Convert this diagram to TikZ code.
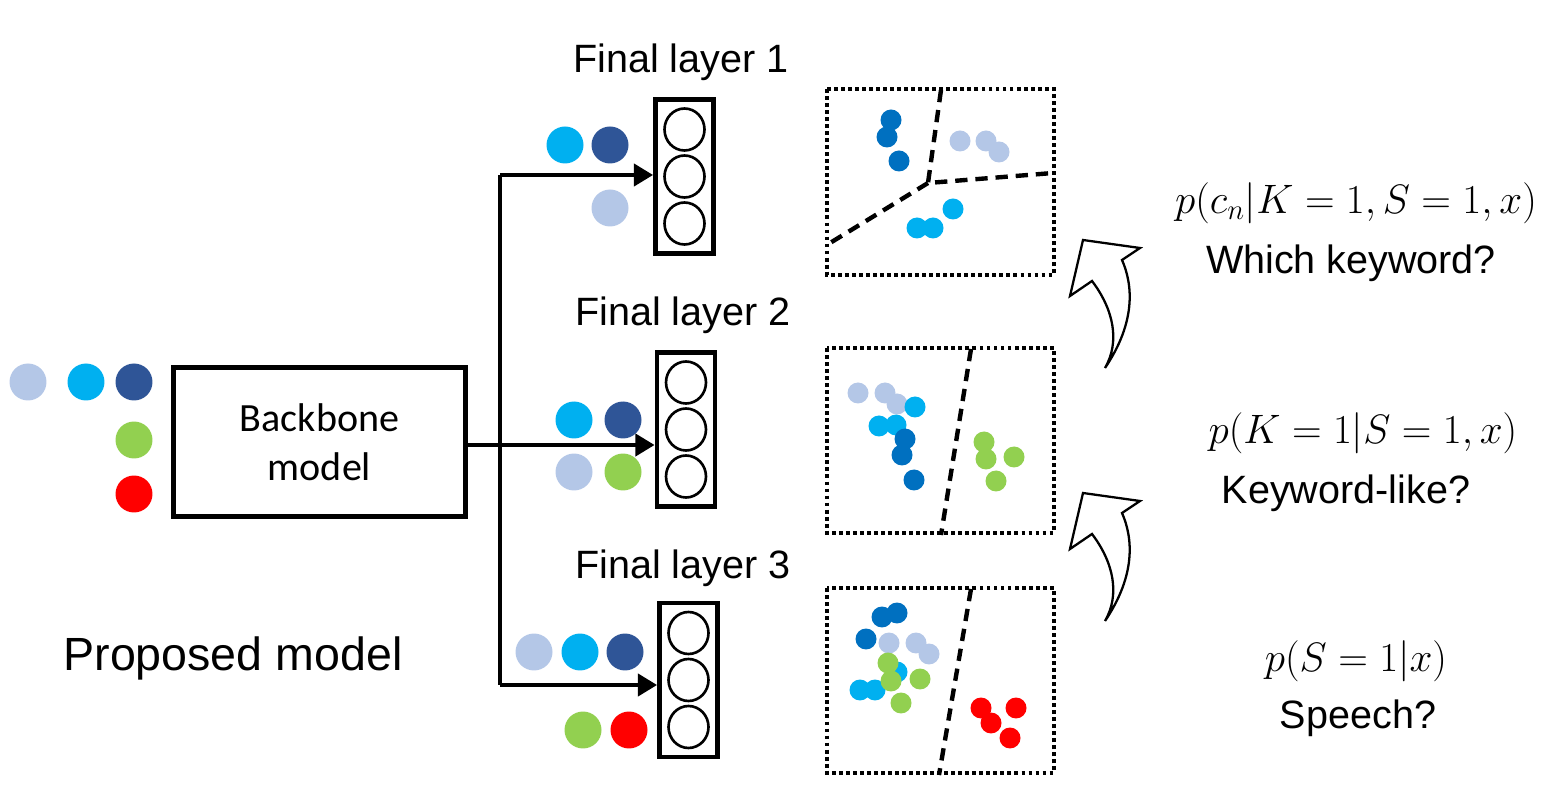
\RequirePackage{fix-cm}
\documentclass[tikz,border=0pt]{standalone}
\usepackage{fontspec}
\setmainfont{Liberation Sans}
\newfontfamily\calibri{Carlito}
\usetikzlibrary{arrows.meta,positioning}
\definecolor{lblue}{HTML}{B4C7E7}
\definecolor{cyanb}{HTML}{00B0F0}
\definecolor{navy}{HTML}{2F5597}
\definecolor{midblue}{HTML}{0070C0}
\definecolor{grn}{HTML}{92D050}
\definecolor{rd}{HTML}{FF0000}
\tikzset{
  box/.style={draw=black, line width=2.7pt, rectangle, inner sep=0pt},
  layer/.style={box, minimum width=1.16cm, minimum height=3.08cm},
  neuron/.style={draw=black, line width=1.5pt},
  feed/.style={draw=black, line width=2.6pt, -{Triangle[length=11pt,width=12.5pt]}},
  wire/.style={draw=black, line width=2.6pt},
  plotbox/.style={draw=black, line width=2.2pt, dash pattern=on 2.2pt off 1.8pt},
  bound/.style={draw=black, line width=2.5pt, dash pattern=on 7pt off 4.5pt},
  lab/.style={font=\fontsize{22.5}{26}\selectfont},
  mth/.style={font=\fontsize{23.4}{28}\selectfont},
  turn/.style={draw=black, line width=1.3pt, fill=white, line join=miter},
}

\begin{document}
\begin{tikzpicture}[x=0.02cm, y=-0.02cm]
\useasboundingbox (0,0) rectangle (1562,786);

% input classes
\fill[lblue] (28,382) circle (0.37cm);
\fill[cyanb] (86,382) circle (0.37cm);
\fill[navy] (134,382) circle (0.37cm);
\fill[grn] (134,440) circle (0.37cm);
\fill[rd] (134,494) circle (0.37cm);

\node[box, minimum width=5.84cm, minimum height=2.98cm, align=center,
  font=\calibri\fontsize{22.8}{28}\selectfont] (bb) at (319.5,442) {Backbone\\model};
\node[font=\fontsize{26.5}{30}\selectfont] (pm) at (233,658) {Proposed model};

% final layers
\node[layer] (l1) at (684.5,176.5) {};
\node[layer] (l2) at (686,429.5) {};
\node[layer] (l3) at (688.5,680) {};
\foreach \n in {l1,l2,l3}
  \foreach \dy in {-47,0,47}
    \draw[neuron] (\n.center) ++(0,\dy) ellipse [x radius=0.4cm, y radius=0.42cm];
\node[lab] (t1) at (681,62) {Final layer 1};
\node[lab] (t2) at (683,315) {Final layer 2};
\node[lab] (t3) at (683,568) {Final layer 3};

\coordinate (sp) at (500,445);
\coordinate (up) at (500,175);
\coordinate (dn) at (500,685);
\draw[wire] (up) -- (dn);
\draw[feed] (sp -| bb.east) -- (sp -| l2.west);
\draw[feed] (up) -- (up -| l1.west);
\draw[feed] (dn) -- (dn -| l3.west);

% classes kept by each layer
\fill[cyanb] (565,145) circle (0.37cm);
\fill[navy] (610,145) circle (0.37cm);
\fill[lblue] (610,208) circle (0.37cm);
\fill[cyanb] (574,420) circle (0.37cm);
\fill[navy] (623,420) circle (0.37cm);
\fill[lblue] (574,472) circle (0.37cm);
\fill[grn] (623,472) circle (0.37cm);
\fill[lblue] (534,652) circle (0.37cm);
\fill[cyanb] (580,652) circle (0.37cm);
\fill[navy] (625,652) circle (0.37cm);
\fill[grn] (583,730) circle (0.37cm);
\fill[rd] (629,730) circle (0.37cm);

% embedding spaces
\draw[plotbox] (827,89) rectangle (1054,275);
\draw[plotbox] (827,348) rectangle (1054,533);
\draw[plotbox] (827,588) rectangle (1054,773);
\draw[bound] (941,90) -- (928,183) -- (1053,173);
\draw[bound] (928,183) -- (830,243);
\draw[bound] (971,349) -- (941,535);
\draw[bound] (971,589) -- (939,775);

\foreach \p in {(891,120),(887,137),(899,161)} \fill[midblue] \p circle (0.21cm);
\foreach \p in {(960,141),(986,141),(999,152)} \fill[lblue] \p circle (0.21cm);
\foreach \p in {(953,209),(917,228),(933,228)} \fill[cyanb] \p circle (0.21cm);

\foreach \p in {(858,393),(885,393),(897,404)} \fill[lblue] \p circle (0.21cm);
\foreach \p in {(915,407),(879,426),(896,425)} \fill[cyanb] \p circle (0.21cm);
\foreach \p in {(905,439),(902,455),(914,480)} \fill[midblue] \p circle (0.21cm);
\foreach \p in {(984,442),(986,459),(1014,457),(996,481)} \fill[grn] \p circle (0.21cm);

\foreach \p in {(882,617),(897,613),(866,639)} \fill[midblue] \p circle (0.21cm);
\foreach \p in {(889,643),(916,643),(929,654)} \fill[lblue] \p circle (0.21cm);
\foreach \p in {(897,672),(860,690),(875,690)} \fill[cyanb] \p circle (0.21cm);
\foreach \p in {(888,663),(891,681),(920,679),(901,703)} \fill[grn] \p circle (0.21cm);
\foreach \p in {(981,708),(1016,708),(991,723),(1010,738)} \fill[rd] \p circle (0.21cm);

% curved arrows
\foreach \dy in {0,253}
  \draw[turn, shift={(0,\dy)}] (1105,368) .. controls (1136,322) and (1133,285) .. (1122,260)
    -- (1140,248) -- (1083,240) -- (1070,296) -- (1092,281)
    .. controls (1114,310) and (1120,342) .. (1105,368) -- cycle;

% questions
\node[mth] (q1) at (1356,203) {$p(c_n|K=1,S=1,x)$};
\node[lab] (a1) at (1351,263) {Which keyword?};
\node[mth] (q2) at (1363,433) {$p(K=1|S=1,x)$};
\node[lab] (a2) at (1346,493) {Keyword-like?};
\node[mth] (q3) at (1356,661) {$p(S=1|x)$};
\node[lab] (a3) at (1358,718) {Speech?};
\end{tikzpicture}
\end{document}
